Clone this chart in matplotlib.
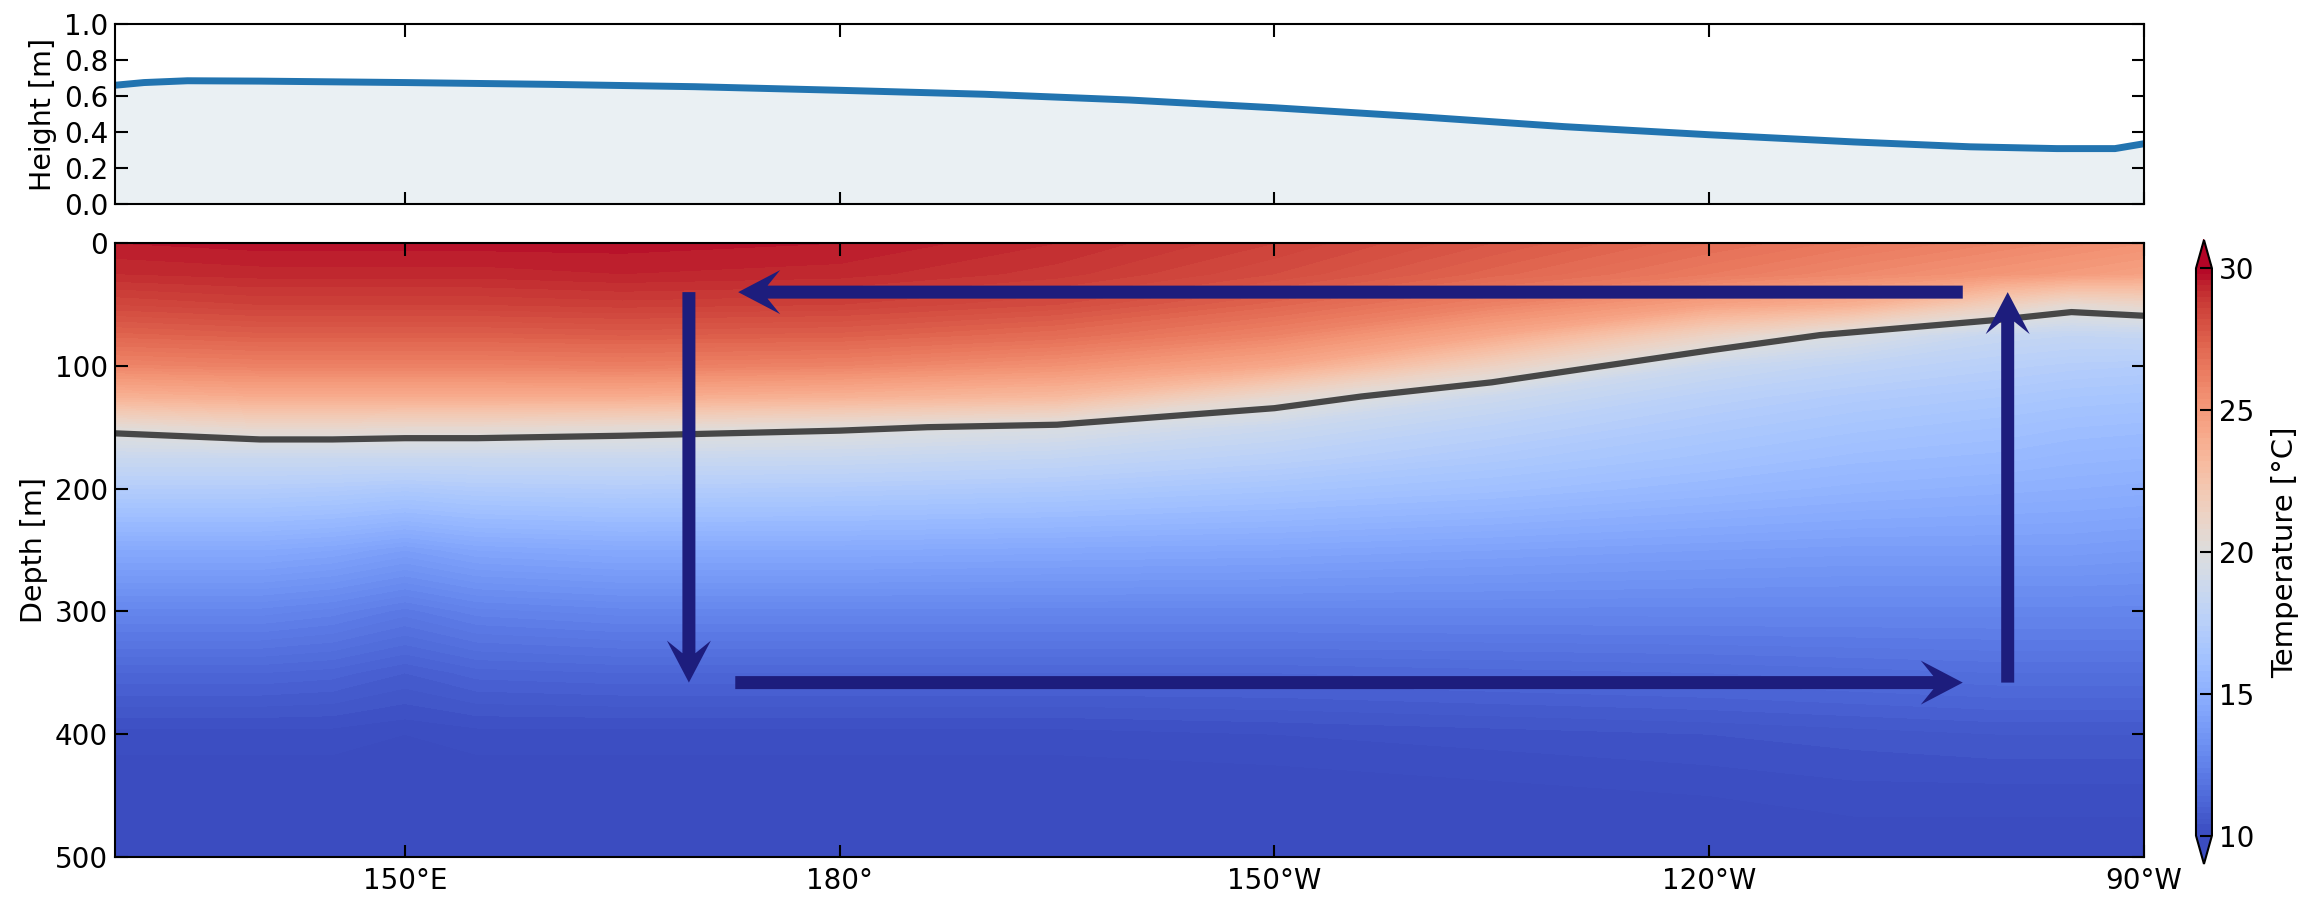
import numpy as np
import matplotlib
matplotlib.use("Agg")
import matplotlib.pyplot as plt
from matplotlib.patches import FancyArrow
from matplotlib.transforms import IdentityTransform

# --- data ---
lon_ticks = [150, 180, 210, 240, 270]
lon_ticklabels = ['150°E', '180°', '150°W', '120°W', '90°W']

# sea surface height (top panel)
ssh_lon = [130, 132, 135, 140, 150, 160, 170, 180, 190, 200, 210, 220, 230, 240, 250, 258, 264, 268, 270]
ssh_m = [0.66, 0.675, 0.685, 0.683, 0.675, 0.665, 0.652, 0.632, 0.61, 0.578, 0.535, 0.485, 0.43,
         0.385, 0.345, 0.318, 0.308, 0.308, 0.335]

# temperature section (one profile per longitude, values at sec_depth)
sec_lon = [130, 140, 145, 150, 155, 165, 180, 195, 210, 225, 240, 250, 260, 265, 270]
sec_depth = [0, 25, 50, 75, 100, 125, 150, 175, 200, 250, 300, 350, 400, 450, 500]
temp_by_lon = [
    [29.6, 29.2, 28.4, 27.3, 25.9, 23.7, 20.35, 18.6, 17.2, 14.6, 12.7, 11.2, 10.1, 9.8, 9.5],  # 130
    [29.7, 29.3, 28.6, 27.5, 26.1, 24.0, 20.93, 18.6, 17.2, 14.6, 12.7, 11.2, 10.1, 9.8, 9.5],  # 140
    [29.7, 29.3, 28.6, 27.5, 26.1, 24.0, 20.93, 18.6, 17.1, 14.4, 12.5, 11.1, 10.1, 9.8, 9.5],  # 145
    [29.7, 29.3, 28.6, 27.5, 26.1, 24.0, 20.78, 18.6, 16.9, 14.0, 12.1, 10.8, 10.0, 9.8, 9.5],  # 150
    [29.7, 29.3, 28.6, 27.5, 26.1, 24.0, 20.78, 18.6, 17.1, 14.4, 12.5, 11.1, 10.1, 9.8, 9.5],  # 155
    [29.7, 29.4, 28.7, 27.6, 26.2, 24.0, 20.54, 18.6, 17.2, 14.6, 12.7, 11.2, 10.1, 9.8, 9.5],  # 165
    [29.6, 29.3, 28.6, 27.5, 26.0, 23.7, 20.19, 18.5, 17.1, 14.6, 12.7, 11.2, 10.1, 9.8, 9.5],  # 180
    [29.2, 28.9, 28.2, 27.0, 25.4, 23.2, 19.72, 18.2, 16.9, 14.5, 12.7, 11.2, 10.1, 9.8, 9.5],  # 195
    [28.6, 28.2, 27.3, 26.0, 24.2, 20.8, 18.7, 17.6, 16.5, 14.4, 12.7, 11.2, 10.2, 9.8, 9.5],   # 210
    [27.8, 27.3, 26.1, 24.2, 21.4, 18.8, 17.7, 16.9, 16.1, 14.2, 12.7, 11.3, 10.3, 9.9, 9.6],   # 225
    [27.0, 26.4, 24.6, 21.3, 18.7, 17.6, 16.9, 16.3, 15.6, 14.0, 12.7, 11.4, 10.4, 10.0, 9.7],  # 240
    [26.5, 25.8, 23.8, 19.6, 18.0, 17.1, 16.5, 15.9, 15.3, 13.9, 12.7, 11.5, 10.5, 10.1, 9.8],  # 250
    [26.0, 25.2, 21.6, 18.4, 17.5, 16.8, 16.2, 15.7, 15.1, 13.9, 12.7, 11.6, 10.6, 10.1, 9.8],  # 260
    [25.7, 24.9, 20.6, 18.2, 17.3, 16.6, 16.0, 15.5, 15.0, 13.9, 12.7, 11.6, 10.6, 10.1, 9.8],  # 265
    [25.4, 24.6, 21.0, 18.3, 17.2, 16.5, 15.9, 15.4, 14.9, 13.8, 12.7, 11.6, 10.6, 10.1, 9.8],  # 270
]

# circulation arrows: (lon, depth) start -> end
arrows = [
    ((257.5, 40), (173.0, 40)),
    ((169.6, 40), (169.6, 358)),
    ((172.8, 358), (257.5, 358)),
    ((260.6, 358), (260.6, 40)),
]

plt.rcParams['font.family'] = ['DejaVu Sans']
plt.rcParams['font.size'] = 20.5
plt.rcParams['axes.linewidth'] = 1.5
for a in ('xtick', 'ytick'):
    plt.rcParams[a + '.direction'] = 'in'
    plt.rcParams[a + '.major.size'] = 9
    plt.rcParams[a + '.major.width'] = 1.5
    plt.rcParams[a + '.labelsize'] = 20
plt.rcParams['xtick.top'] = True
plt.rcParams['ytick.right'] = True
plt.rcParams['xtick.major.pad'] = 7
plt.rcParams['ytick.major.pad'] = 5

fig = plt.figure(figsize=(23.14, 8.98), dpi=100)
ax_top = fig.add_axes([0.0497, 0.7728, 0.8768, 0.2004])
ax = fig.add_axes([0.0497, 0.0457, 0.8768, 0.6837])
cax = fig.add_axes([0.949, 0.0379, 0.0069, 0.6949])

# top panel
ax_top.fill_between(ssh_lon, 0, ssh_m, color='#eaf0f3', lw=0)
ax_top.plot(ssh_lon, ssh_m, color='#2274b0', lw=5)
ax_top.set_xlim(130, 270)
ax_top.set_ylim(0, 1)
ax_top.set_yticks([0.0, 0.2, 0.4, 0.6, 0.8, 1.0])
ax_top.set_yticklabels(['0.0', '0.2', '0.4', '0.6', '0.8', '1.0'])
ax_top.set_xticks(lon_ticks)
ax_top.set_xticklabels([])
ax_top.set_ylabel('Height [m]', labelpad=5)

# temperature section
temp = np.array(temp_by_lon).T
levels = np.linspace(10, 30, 101)
cf = ax.contourf(sec_lon, sec_depth, temp, levels=levels, cmap='coolwarm', extend='both')
ax.contour(sec_lon, sec_depth, temp, levels=[20], colors='#474747', linewidths=4.5)
ax.set_xlim(130, 270)
ax.set_ylim(500, 0)
ax.set_yticks([0, 100, 200, 300, 400, 500])
ax.set_xticks(lon_ticks)
ax.set_xticklabels(lon_ticklabels)
ax.set_ylabel('Depth [m]', labelpad=5)

cb = fig.colorbar(cf, cax=cax, ticks=[10, 15, 20, 25, 30])
cb.ax.tick_params(direction='in', length=9, width=1.5, labelsize=20)
cb.outline.set_linewidth(1.5)
cb.set_label('Temperature [°C]', fontsize=21, labelpad=12)

# arrows drawn in pixel space so heads keep their shape
for start, end in arrows:
    p0 = ax.transData.transform(start)
    p1 = ax.transData.transform(end)
    d = p1 - p0
    arr = FancyArrow(p0[0], p0[1], d[0], d[1], width=13, head_width=44, head_length=42,
                     overhang=0.3, length_includes_head=True, transform=IdentityTransform(),
                     color='#1d1d7d', lw=0, zorder=5)
    ax.add_artist(arr)

fig.savefig('out.png', dpi=100)
